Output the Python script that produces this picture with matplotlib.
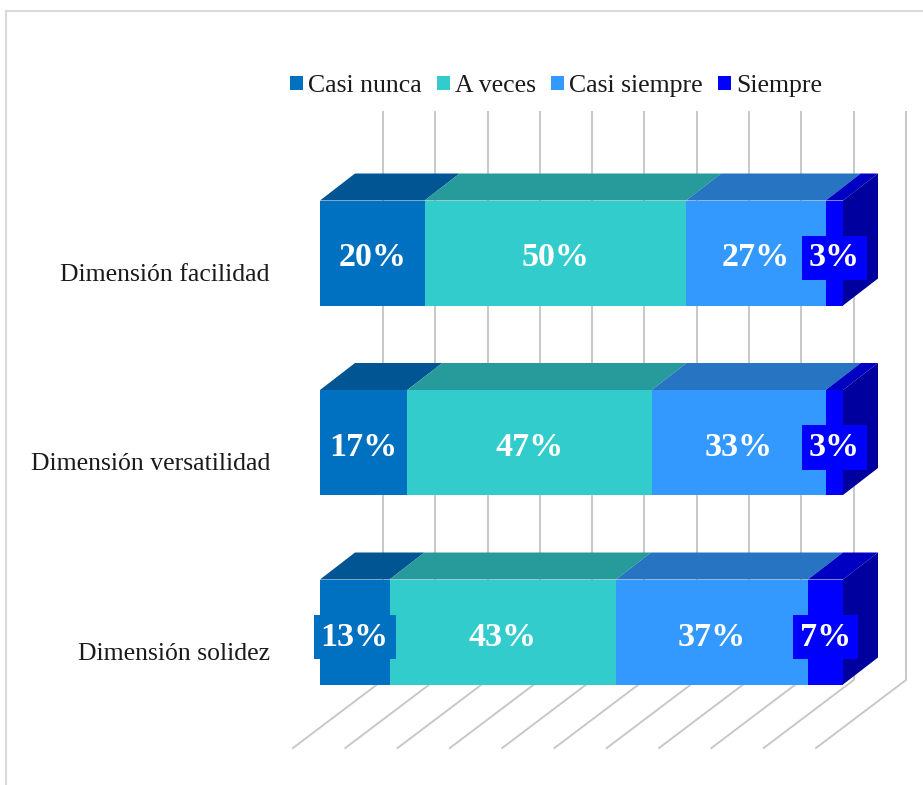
import matplotlib
matplotlib.use("Agg")
import matplotlib.pyplot as plt
from matplotlib.patches import Polygon, Patch
from matplotlib.lines import Line2D
from matplotlib.colors import to_rgb

# datos (porcentaje sobre 30 encuestados)
categorias = ["Dimensión facilidad", "Dimensión versatilidad", "Dimensión solidez"]
series = ["Casi nunca", "A veces", "Casi siempre", "Siempre"]
casi_nunca = [20.0, 16.7, 13.3]
a_veces = [50.0, 46.7, 43.3]
casi_siempre = [26.7, 33.3, 36.7]
siempre = [3.3, 3.3, 6.7]
grid_pct = list(range(0, 101, 10))

colores = ["#0070C0", "#33CCCC", "#3399FF", "#0000FF"]

plt.rcParams['font.family'] = ['Liberation Serif', 'DejaVu Serif']

W, H = 923, 785
# escala: pixeles por 1 % y por categoria
PX_PCT, X0_PX = 5.23, 320
PX_CAT, Y0_PX = 189.5, 253

def darker(c, f):
    r, g, b = to_rgb(c)
    return (r * f, g * f, b * f)

fig = plt.figure(figsize=(W / 100, H / 100), dpi=100)
ax = fig.add_axes([0, 0, 1, 1])
ax.set_xlim(-X0_PX / PX_PCT, (W - X0_PX) / PX_PCT)
ax.set_ylim((H - Y0_PX) / PX_CAT, -Y0_PX / PX_CAT)
ax.axis('off')

# profundidad de las barras y de la escena (efecto 3D)
dxb, dyb = 35 / PX_PCT, 27 / PX_CAT
dxs, dys = 90 / PX_PCT, 68 / PX_CAT
z_front = 0.3
floor_front = (748 - Y0_PX) / PX_CAT
wall_top = (111 - Y0_PX) / PX_CAT
floor_back = floor_front - dys

grid_col = "#C8C8C8"
for v in grid_pct:
    xb = v + (1 - z_front) * dxs
    xf = v - z_front * dxs
    ax.plot([xb, xb], [wall_top, floor_back], color=grid_col, lw=1.4, zorder=1,
            solid_capstyle='butt')
    ax.plot([xf, xb], [floor_front, floor_back], color=grid_col, lw=1.4, zorder=1)

# barras apiladas
valores = [casi_nunca, a_veces, casi_siempre, siempre]
h = 105 / PX_CAT
for i, cat in enumerate(categorias):
    left = 0.0
    for s, vals in enumerate(valores):
        w = vals[i]
        ax.barh(i, w, left=left, height=h, color=colores[s], zorder=3,
                edgecolor='none')
        top = i - h / 2
        ax.add_patch(Polygon([(left, top), (left + w, top),
                              (left + w + dxb, top - dyb), (left + dxb, top - dyb)],
                             closed=True, facecolor=darker(colores[s], 0.76),
                             edgecolor='none', zorder=3))
        left += w
    # cara lateral del ultimo segmento
    top, bot = i - h / 2, i + h / 2
    ax.add_patch(Polygon([(left, top), (left + dxb, top - dyb),
                          (left + dxb, bot - dyb), (left, bot)],
                         closed=True, facecolor=darker(colores[-1], 0.62),
                         edgecolor='none', zorder=3))
    # etiquetas de datos
    left = 0.0
    for s, vals in enumerate(valores):
        w = vals[i]
        ax.text(left + w / 2, i + 5 / PX_CAT, f"{w:.0f}%", ha='center', va='center',
                color='white', fontsize=24.5, fontweight='bold', zorder=5,
                bbox=dict(boxstyle='square,pad=0.2', facecolor=colores[s],
                          edgecolor='none'))
        left += w
    ax.text((270 - X0_PX) / PX_PCT, i + 22 / PX_CAT, cat, ha='right', va='center',
            fontsize=18.5, color='#1a1a1a')

# leyenda
handles = [Patch(facecolor=c, edgecolor='none') for c in colores]
fig.legend(handles, series, loc='center', bbox_to_anchor=(556 / W, 1 - 86 / H),
           ncol=4, frameon=False, fontsize=18.5, handlelength=0.5, handleheight=0.5,
           handletextpad=0.2, columnspacing=0.6, labelcolor='#1a1a1a')

# marco del grafico
fig.add_artist(Line2D([6 / W, 6 / W], [0, 1 - 11 / H], color='#D9D9D9', lw=1.5))
fig.add_artist(Line2D([6 / W, 1], [1 - 11 / H, 1 - 11 / H], color='#D9D9D9', lw=1.5))

fig.savefig("out.png", dpi=100)
